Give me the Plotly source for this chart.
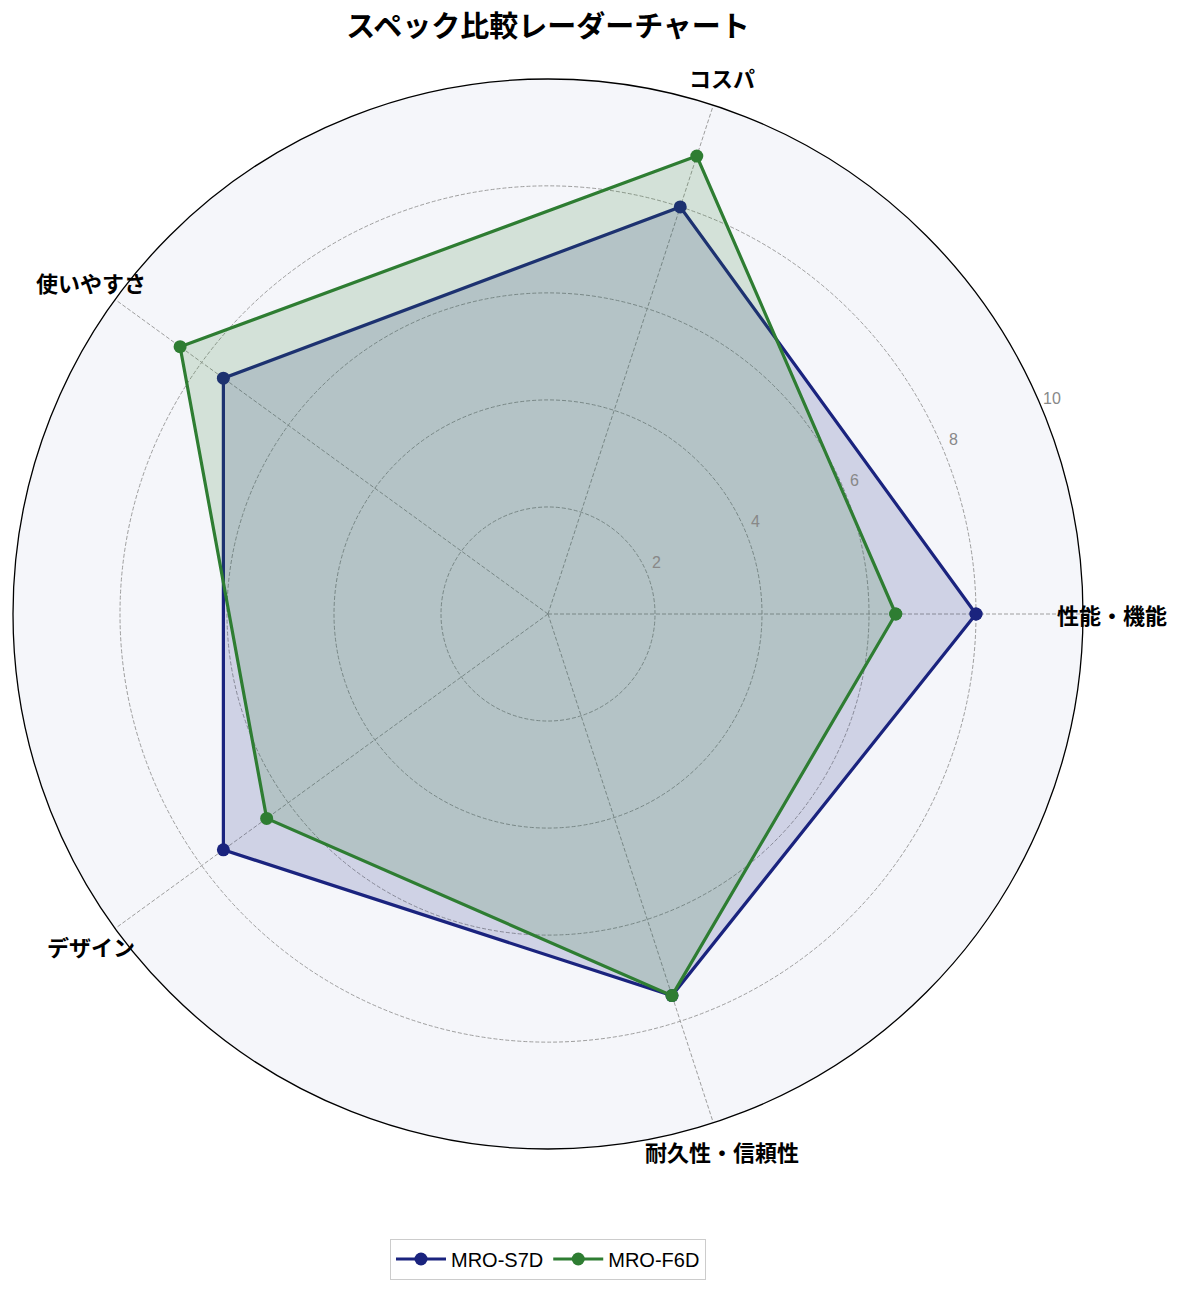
import math
import plotly.graph_objects as go

categories = ["性能・機能", "コスパ", "使いやすさ", "デザイン", "耐久性・信頼性"]
s7d_values = [8.0, 8.0, 7.5, 7.5, 7.5]
f6d_values = [6.5, 9.0, 8.5, 6.5, 7.5]
radial_ticks = [2, 4, 6, 8, 10]

W, H = 1185, 1292
cx, cy, rad = 548, 614, 535

fig = go.Figure()

series = [
    ("MRO-S7D", s7d_values, "#1a237e", "rgba(26,35,126,0.17)"),
    ("MRO-F6D", f6d_values, "#2e7d32", "rgba(46,125,50,0.17)"),
]
for name, vals, color, fill in series:
    r = vals + vals[:1]
    theta = categories + categories[:1]
    # filled area without legend entry, then line + markers on top
    fig.add_trace(go.Scatterpolar(r=r, theta=theta, mode="none", fill="toself",
                                  fillcolor=fill, showlegend=False, hoverinfo="skip"))
    fig.add_trace(go.Scatterpolar(
        r=r, theta=theta, mode="lines+markers", name=name,
        line=dict(color=color, width=3.2),
        marker=dict(color=color, size=13),
    ))


def to_paper(r_frac, ang_deg):
    a = math.radians(ang_deg)
    return (cx + rad * r_frac * math.cos(a)) / W, 1 - (cy - rad * r_frac * math.sin(a)) / H


# category labels, placed just outside the outer ring like matplotlib
for i, cat in enumerate(categories):
    px, py = to_paper(1.055, i * 360 / len(categories))
    fig.add_annotation(x=px, y=py, xref="paper", yref="paper", text=f"<b>{cat}</b>",
                       showarrow=False, xanchor="center", yanchor="middle",
                       font=dict(size=22, color="black"))

# radial tick labels along 22.5 deg
for t in radial_ticks:
    px, py = to_paper(t / 10, 22.5)
    fig.add_annotation(x=px, y=py, xref="paper", yref="paper", text=str(t),
                       showarrow=False, xanchor="center", yanchor="middle",
                       xshift=10, yshift=11,
                       font=dict(size=16, color="#888888", family="Liberation Sans"))

fig.update_layout(
    width=W, height=H,
    paper_bgcolor="white",
    font=dict(family="Noto Sans CJK JP", color="black"),
    margin=dict(l=0, r=0, t=0, b=0),
    title=dict(text="<b>スペック比較レーダーチャート</b>", x=cx / W, xanchor="center",
               y=1 - 27 / H, yanchor="middle", font=dict(size=29)),
    polar=dict(
        domain=dict(x=[(cx - rad) / W, (cx + rad) / W],
                    y=[1 - (cy + rad) / H, 1 - (cy - rad) / H]),
        bgcolor="#f5f6fa",
        radialaxis=dict(
            range=[0, 10], tickvals=radial_ticks, angle=22.5, showline=False,
            ticks="", showticklabels=False,
            gridcolor="#9e9e9e", griddash="4px,2px", gridwidth=0.8,
        ),
        angularaxis=dict(
            rotation=0, direction="counterclockwise",
            showline=True, linecolor="black", linewidth=1.3,
            gridcolor="#9e9e9e", griddash="4px,2px", gridwidth=0.8,
            ticks="", showticklabels=False,
        ),
    ),
    legend=dict(orientation="h", x=cx / W, xanchor="center", y=1 - 1259 / H, yanchor="middle",
                bordercolor="#cccccc", borderwidth=1, itemwidth=50,
                font=dict(size=20, family="Liberation Sans")),
)

# drop the browser's default body margin so the figure sits at the page origin
fig.write_html("out.html", config={"displayModeBar": False},
               post_script="document.body.style.margin='0';")
